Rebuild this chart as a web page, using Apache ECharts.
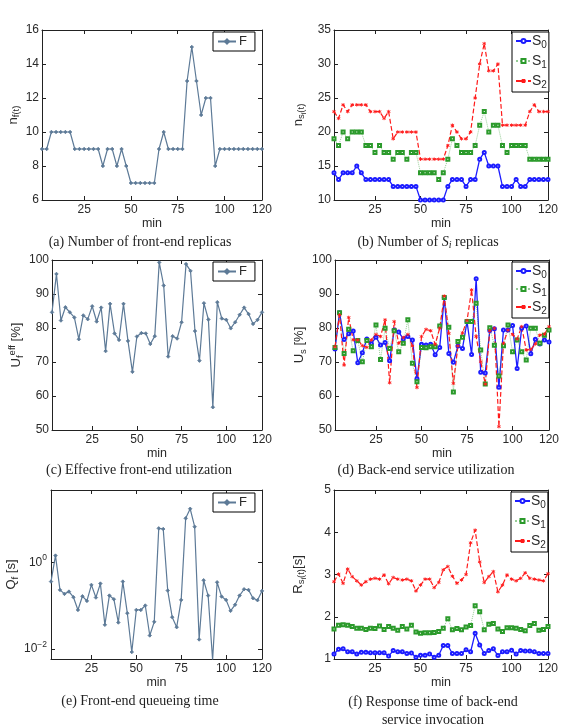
<!DOCTYPE html>
<html>
<head>
<meta charset="utf-8">
<script src="https://cdn.jsdelivr.net/npm/echarts@6/dist/echarts.min.js"></script>
<style>html,body{margin:0;padding:0;background:#fff;}#c{width:571px;height:724px;}</style>
</head>
<body>
<div id="c"></div>
<script>
const minutes = [2.5,5,7.5,10,12.5,15,17.5,20,22.5,25,27.5,30,32.5,35,37.5,40,42.5,45,47.5,50,52.5,55,57.5,60,62.5,65,67.5,70,72.5,75,77.5,80,82.5,85,87.5,90,92.5,95,97.5,100,102.5,105,107.5,110,112.5,115,117.5,120];
const xTickLabels = [25,50,75,100,120];

// (a) front-end replicas
const nF = [9,9,10,10,10,10,10,9,9,9,9,9,9,8,9,9,8,9,8,7,7,7,7,7,7,9,10,9,9,9,9,13,15,13,11,12,12,8,9,9,9,9,9,9,9,9,9,9];
// (b) S_i replicas
const nS0 = [14,13,14,14,14,15,14,13,13,13,13,13,13,12,12,12,12,12,12,10,10,10,10,10,10,12,13,13,13,12,13,13,16,17,15,15,15,12,12,12,13,12,12,13,13,13,13,13];
const nS1 = [19,18,20,19,20,20,20,18,18,17,18,17,17,16,17,17,16,17,17,14,14,14,14,13,14,16,19,18,17,17,17,18,21,23,20,21,21,18,17,18,18,18,18,16,16,16,16,16];
const nS2 = [23,22,24,23,24,24,24,24,23,23,23,22,23,19,20,20,20,20,20,16,16,16,16,16,16,18,21,20,19,19,20,25,30,33,29,29,30,21,21,21,21,21,21,23,24,23,23,23];
// (c) effective front-end utilization [%]
const uF = [84.6,95.9,82.2,86.1,84.6,83.1,76.7,83.7,82.6,86.4,81.9,86.0,73.2,87.1,78.4,76.5,87.1,76.2,67.1,77.5,78.5,78.4,75.3,77.6,99.3,92.5,71.6,77.6,76.9,81.7,98.8,96.8,79.1,70.4,87.3,82.5,56.7,87.6,82.8,82.4,79.9,81.7,83.9,86.0,84.1,81.2,82.4,84.6];
// (d) back-end utilization [%]
const uS0 = [73.8,84.5,76.6,78.3,79.1,69.8,72.7,76.8,75.4,77.3,75.0,75.7,70.4,79.4,78.8,76.8,77.5,76.5,65.1,75.2,75.0,75.2,72.1,74.3,89.0,72.5,69.9,74.7,74.0,81.9,72.2,94.5,67.0,66.8,79.3,79.8,62.6,79.4,79.4,80.7,68.1,79.9,80.6,72.4,76.7,75.3,76.5,75.9];
const uS1 = [74.3,84.5,72.5,79.6,73.3,76.3,70.1,76.3,74.5,80.9,70.7,79.9,74.0,79.2,73.0,75.5,82.4,69.6,64.2,74.3,74.2,74.5,74.5,80.6,89.0,80.2,61.2,76.0,77.3,81.9,81.9,87.3,73.5,63.5,80.1,74.9,65.9,74.8,80.9,73.0,76.5,73.0,70.6,79.9,79.9,75.5,77.9,79.4];
const uS2 = [74.5,83.8,69.1,83.1,76.5,76.5,74.8,74.3,76.5,78.1,77.5,82.4,63.9,81.9,75.5,77.2,78.1,74.7,62.5,77.5,79.6,79.2,75.2,79.9,89.4,78.4,63.7,74.7,78.6,82.2,91.2,77.5,70.1,63.5,79.2,79.9,51.0,75.5,79.4,78.1,76.8,80.4,73.5,73.7,75.3,77.9,78.2,80.4];
// (e) front-end queueing time [s]
const qF = [0.358,1.43,0.230,0.186,0.210,0.156,0.079,0.164,0.128,0.300,0.153,0.322,0.0358,0.170,0.140,0.0405,0.358,0.0665,0.0084,0.079,0.079,0.1,0.0203,0.042,6.09,5.88,0.222,0.0538,0.0316,0.135,10.4,17.3,6.65,0.0164,0.384,0.170,0.0055,0.345,0.161,0.135,0.0753,0.104,0.170,0.238,0.230,0.148,0.133,0.218];
// (f) response time [s]
const rS0 = [1.12,1.23,1.24,1.17,1.17,1.12,1.16,1.16,1.15,1.15,1.15,1.15,1.07,1.20,1.17,1.17,1.13,1.14,1.04,1.09,1.09,1.12,1.04,1.09,1.32,1.32,1.13,1.13,1.13,1.22,1.17,1.61,1.33,1.13,1.20,1.24,1.08,1.17,1.17,1.21,1.12,1.20,1.19,1.19,1.17,1.13,1.13,1.13];
const rS1 = [1.71,1.80,1.81,1.80,1.77,1.73,1.73,1.70,1.73,1.72,1.78,1.70,1.77,1.73,1.68,1.77,1.71,1.80,1.64,1.61,1.62,1.62,1.63,1.65,1.73,1.95,1.69,1.72,1.69,1.76,1.79,2.26,2.12,1.69,1.82,1.84,1.71,1.65,1.74,1.74,1.73,1.70,1.67,1.79,1.84,1.68,1.70,1.77];
const rS2 = [2.83,3.01,2.79,3.13,2.95,2.85,2.75,2.83,2.89,2.91,2.89,2.99,2.78,2.93,2.89,2.87,2.89,2.85,2.61,2.75,2.89,2.89,2.69,2.81,3.11,3.19,2.96,2.79,2.87,3.00,3.75,4.05,3.30,2.81,2.95,3.07,2.59,2.75,2.99,2.89,2.85,2.91,3.04,2.91,2.89,2.87,2.85,3.02];

const SANS = 'Liberation Sans, Arial, sans-serif';
const SERIF = 'Liberation Serif, Times New Roman, serif';
const AX = '#222';
const TXT = '#2a2a2a';

const grids = [
  {left:42, top:30, width:220, height:170},
  {left:334, top:30, width:214, height:170},
  {left:52, top:260, width:210, height:170},
  {left:335, top:260, width:214, height:170},
  {left:51, top:490, width:211, height:169},
  {left:334, top:490, width:214, height:169}
];

const nameRich = {
  m: {fontSize:13, fontFamily:SANS, color:TXT},
  s: {fontSize:9.5, fontFamily:SANS, color:TXT, padding:[7,0,0,0]},
  ss: {fontSize:7.5, fontFamily:SANS, color:TXT, padding:[12,0,0,0]},
  p: {fontSize:9.5, fontFamily:SANS, color:TXT, padding:[0,0,8,0]}
};

const yCfgs = [
  {min:6, max:16, interval:2, name:'{m|n}{s|f(t)}', gap:17},
  {min:10, max:35, interval:5, name:'{m|n}{s|s}{ss|i}{s|(t)}', gap:26},
  {min:50, max:100, interval:10, name:'{m|U}{s|f}{p|eff}{m| [%]}', gap:22},
  {min:50, max:100, interval:10, name:'{m|U}{s|s}{m| [%]}', gap:25},
  {log:true, min:0.0058, max:47, name:'{m|Q}{s|f}{m| [s]}', gap:30},
  {min:1, max:5, interval:1, name:'{m|R}{s|s}{ss|i}{s|(t)}{m|[s]}', gap:26}
];

const xAxis = [], yAxis = [];
grids.forEach((g, i) => {
  const tick = {show:true, inside:true, length:4, lineStyle:{color:AX, width:1}};
  const line = {show:true, onZero:false, lineStyle:{color:AX, width:1}};
  xAxis.push({gridIndex:i, type:'value', min:2.5, max:120, position:'bottom',
    axisLine:line, axisTick:Object.assign({customValues:xTickLabels}, tick),
    axisLabel:{customValues:xTickLabels, fontSize:12, color:TXT, fontFamily:SANS, margin:4},
    splitLine:{show:false}, name:'min', nameLocation:'middle', nameGap:17,
    nameTextStyle:{fontSize:12.5, color:TXT, fontFamily:SANS}});
  xAxis.push({gridIndex:i, type:'value', min:2.5, max:120, position:'top',
    axisLine:line, axisTick:Object.assign({customValues:xTickLabels}, tick),
    axisLabel:{show:false}, splitLine:{show:false}});
  const c = yCfgs[i];
  let yl, yr;
  if (c.log) {
    const lv = [0.01, 1];
    const fmt = v => (v < 0.1 ? '{b|10}{p|\u22122}' : '{b|10}{p|0}');
    yl = {gridIndex:i, type:'log', logBase:10, min:c.min, max:c.max, position:'left',
      axisLine:line, axisTick:Object.assign({customValues:lv}, tick),
      axisLabel:{customValues:lv, formatter:fmt, margin:4,
        rich:{b:{fontSize:12, color:TXT, fontFamily:SANS}, p:{fontSize:8.5, color:TXT, fontFamily:SANS, padding:[0,0,9,0]}}},
      splitLine:{show:false}, minorTick:{show:false}};
    yr = {gridIndex:i, type:'log', logBase:10, min:c.min, max:c.max, position:'right',
      axisLine:line, axisTick:Object.assign({customValues:lv}, tick),
      axisLabel:{show:false}, splitLine:{show:false}};
  } else {
    yl = {gridIndex:i, type:'value', min:c.min, max:c.max, interval:c.interval, position:'left',
      axisLine:line, axisTick:tick,
      axisLabel:{fontSize:12, color:TXT, fontFamily:SANS, margin:3},
      splitLine:{show:false}};
    yr = {gridIndex:i, type:'value', min:c.min, max:c.max, interval:c.interval, position:'right',
      axisLine:line, axisTick:tick, axisLabel:{show:false}, splitLine:{show:false}};
  }
  yl.name = c.name; yl.nameLocation = 'middle'; yl.nameGap = c.gap; yl.nameRotate = 90;
  yl.nameTextStyle = {rich:nameRich};
  yAxis.push(yl, yr);
});

const ASTER = 'path://M0,-5L0,5M-4.3,-2.5L4.3,2.5M-4.3,2.5L4.3,-2.5';
const styles = {
  F: {color:'#5d7a97', symbol:'diamond', symbolSize:3.5, bw:0.8, lineStyle:{width:1.2, type:'solid'}},
  S0: {color:'#1c1cff', symbol:'emptyCircle', symbolSize:3, bw:0.9, lineStyle:{width:1.3, type:'solid'}},
  S1: {color:'#2b9a2b', symbol:'emptyRect', symbolSize:3, bw:0.9, lineStyle:{width:1, type:'dotted', opacity:0.5}},
  S2: {color:'#ff1a1a', symbol:ASTER, symbolSize:3.5, bw:0.9, lineStyle:{width:1.2, type:'dashed'}}
};
function mk(name, grid, vals) {
  const s = styles[name];
  return {
    type:'line', name:name, xAxisIndex:grid*2, yAxisIndex:grid*2,
    data: minutes.map((m, k) => [m, vals[k]]),
    symbol:s.symbol, symbolSize:s.symbolSize, showAllSymbol:true,
    itemStyle:{color:s.color, borderColor:s.color, borderWidth:s.bw},
    lineStyle:Object.assign({color:s.color}, s.lineStyle),
    animation:false, silent:true
  };
}
const series = [
  mk('F', 0, nF),
  mk('S0', 1, nS0), mk('S1', 1, nS1), mk('S2', 1, nS2),
  mk('F', 2, uF),
  mk('S0', 3, uS0), mk('S1', 3, uS1), mk('S2', 3, uS2),
  mk('F', 4, qF),
  mk('S0', 5, rS0), mk('S1', 5, rS1), mk('S2', 5, rS2)
];

const legRich = {
  m:{fontSize:14, fontFamily:SANS, color:TXT},
  s:{fontSize:10, fontFamily:SANS, color:TXT, padding:[8,0,0,0]}
};
function legF(left, top) {
  return {data:['F'], left:left, top:top, orient:'vertical', backgroundColor:'#fff',
    borderColor:'#000', borderWidth:1, borderRadius:0, padding:[3,8,3,4], itemWidth:18, itemHeight:5,
    itemGap:2, selectedMode:false, textStyle:{fontSize:13, fontFamily:SANS, color:TXT, padding:[0,0,0,-2]}};
}
function legS(left, top, gap) {
  return {data:['S0','S1','S2'], left:left, top:top, orient:'vertical', backgroundColor:'#fff',
    borderColor:'#000', borderWidth:1, borderRadius:0, padding:[2,2,2,3], itemWidth:15, itemHeight:5,
    itemGap:gap, selectedMode:false,
    formatter: n => '{m|S}{s|' + n.slice(1) + '}',
    textStyle:{rich:legRich, padding:[0,0,0,-4]}};
}

const capFont = '14px ' + SERIF;
function cap(x, y, text, rich) {
  return {type:'text', x:x, y:y, silent:true,
    style:{text:text, align:'center', verticalAlign:'middle', font:capFont, fill:'#222', rich:rich}};
}
const capRich = {
  n:{fontSize:14, fontFamily:SERIF, fill:'#222', color:'#222'},
  i:{fontSize:14, fontFamily:SERIF, fontStyle:'italic', fill:'#222', color:'#222'},
  sub:{fontSize:10, fontFamily:SERIF, fontStyle:'italic', fill:'#222', color:'#222', padding:[6,0,0,0]}
};

const option = {
  backgroundColor:'#fff',
  animation:false,
  grid: grids.map(g => Object.assign({outerBoundsMode:'none', containLabel:false}, g)),
  xAxis: xAxis,
  yAxis: yAxis,
  legend: [legF(213, 32), legS(512, 32, 4), legF(213, 262), legS(512, 262, 2), legF(213, 493), legS(511, 492, 4)],
  series: series,
  graphic: [
    cap(140, 242, '(a) Number of front-end replicas'),
    cap(428, 242, '{n|(b) Number of }{i|S}{sub|i}{n| replicas}', capRich),
    cap(139, 470, '(c) Effective front-end utilization'),
    cap(426, 470, '(d) Back-end service utilization'),
    cap(140, 701, '(e) Front-end queueing time'),
    cap(433, 702, '(f) Response time of back-end'),
    cap(433, 720, 'service invocation')
  ]
};
const chart = echarts.init(document.getElementById('c'), null, {renderer:'canvas'});
chart.setOption(option);
</script>
</body>
</html>
